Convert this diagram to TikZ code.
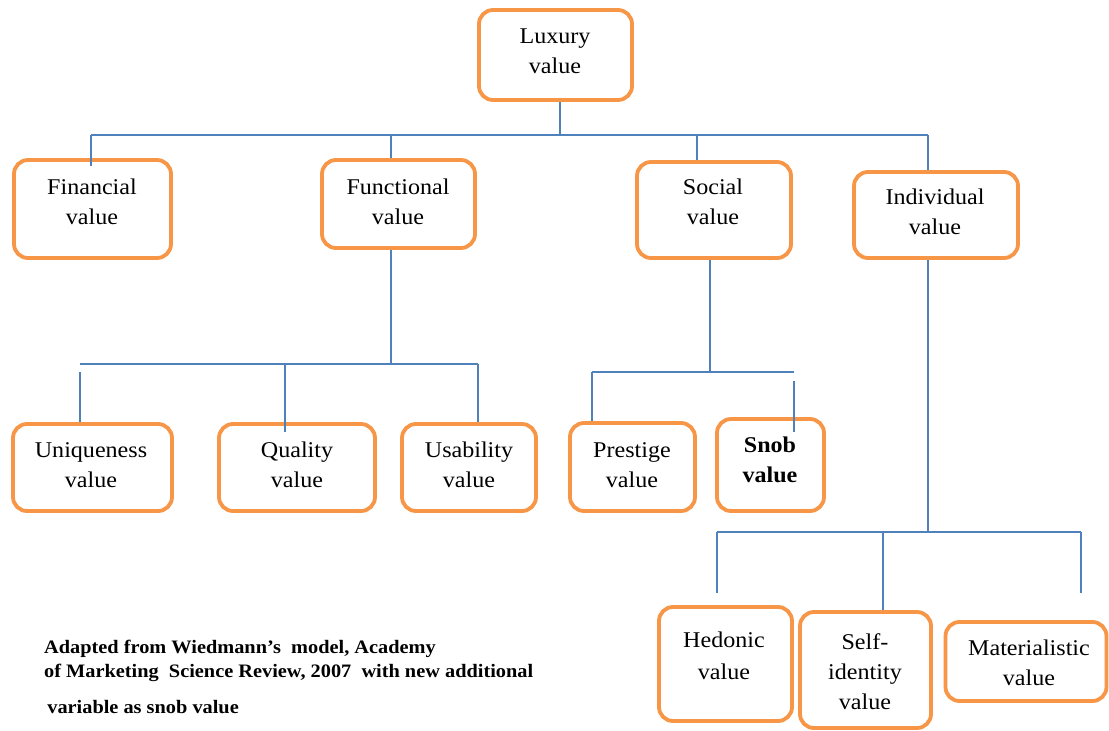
\documentclass[tikz,border=0pt]{standalone}
\usepackage{fontspec}
\setmainfont[FakeStretch=1.07]{Liberation Serif}
\begin{document}
\begin{tikzpicture}[x=1pt,y=-1pt,
  box/.style={draw=boxorange,line width=3.8pt,rounded corners=14pt,inner sep=0pt},
  txt/.style={align=center,inner sep=0pt,font=\fontsize{22.5}{30}\selectfont},
  link/.style={draw=linkblue,line width=1.4pt}]
\definecolor{boxorange}{RGB}{247,150,70}
\definecolor{linkblue}{RGB}{79,129,189}
\useasboundingbox[fill=white] (0,0) rectangle (1109,731);
% level 0
\node[box,minimum width=153pt,minimum height=90pt] (lux) at (555.5,55) {};
\node[txt] (luxt) at (555,51.5) {Luxury\\value};
% level 1
\node[box,minimum width=157pt,minimum height=98pt] (fin) at (92.5,209) {};
\node[txt] (fint) at (92,202) {Financial\\value};
\node[box,minimum width=153pt,minimum height=88pt] (fun) at (398.5,204) {};
\node[txt] (funt) at (398,202) {Functional\\value};
\node[box,minimum width=154pt,minimum height=96pt] (soc) at (714,210) {};
\node[txt] (soct) at (713,202) {Social\\value};
\node[box,minimum width=164pt,minimum height=86pt] (ind) at (936,215) {};
\node[txt] (indt) at (935,212) {Individual\\value};
% level 2
\node[box,minimum width=159pt,minimum height=87pt] (uni) at (92.5,467.5) {};
\node[txt] (unit) at (91,465) {Uniqueness\\value};
\node[box,minimum width=156pt,minimum height=87pt] (qua) at (297,467.5) {};
\node[txt] (quat) at (297,465) {Quality\\value};
\node[box,minimum width=134pt,minimum height=87pt] (usa) at (469,467.5) {};
\node[txt] (usat) at (469,465) {Usability\\value};
\node[box,minimum width=125pt,minimum height=88pt] (pre) at (632.5,467) {};
\node[txt] (pret) at (632,465) {Prestige\\value};
\node[box,minimum width=107pt,minimum height=92pt] (snob) at (770.5,465) {};
\node[txt,font=\fontsize{22.5}{30}\selectfont\bfseries] (snobt) at (770,460) {Snob\\value};
\node[box,minimum width=133pt,minimum height=114pt] (hed) at (725.5,664) {};
\node[txt,font=\fontsize{22.5}{32}\selectfont] (hedt) at (724,656) {Hedonic\\value};
\node[box,minimum width=131pt,minimum height=116pt] (self) at (865.5,670) {};
\node[txt] (selft) at (865,671.5) {Self-\\identity\\value};
\node[box,minimum width=161pt,minimum height=79pt] (mat) at (1026,661.5) {};
\node[txt] (matt) at (1029,663) {Materialistic\\value};
% caption
\node[anchor=base west,align=left,inner sep=0pt,font=\fontsize{19}{24}\selectfont\bfseries] (cap) at (44,713)
  {Adapted from Wiedmann’s\ \ model, Academy\\of Marketing\ \ Science Review, 2007\ \ with new additional\\[12pt]\,variable as snob value};
% top bus
\coordinate (b0) at (560,135);
\coordinate (bfin) at (91,135);
\coordinate (bfun) at (391,135);
\coordinate (bsoc) at (697,135);
\coordinate (bind) at (928,135);
\draw[link] (lux.south -| b0) -- (b0);
\draw[link] (bfin) -- (bind);
\draw[link] (bfin) -- ([yshift=-8pt]bfin |- fin.north);
\draw[link] (bfun) -- (bfun |- fun.north);
\draw[link] (bsoc) -- (bsoc |- soc.north);
\draw[link] (bind) -- (bind |- ind.north);
% functional bus
\coordinate (f0) at (391,364);
\coordinate (funi) at (80,364);
\coordinate (fqua) at (285,364);
\coordinate (fusa) at (478,364);
\draw[link] (fun.south -| f0) -- (f0);
\draw[link] (funi) -- (fusa);
\draw[link] ([yshift=-8pt]funi) -- (funi |- uni.north);
\draw[link] (fqua) -- ([yshift=-10pt]fqua |- qua.north);
\draw[link] (fusa) -- (fusa |- usa.north);
% social bus
\coordinate (s0) at (710,372);
\coordinate (spre) at (592,372);
\coordinate (ssnob) at (794,372);
\draw[link] (soc.south -| s0) -- (s0);
\draw[link] (spre) -- (ssnob);
\draw[link] (spre) -- (spre |- pre.north);
\draw[link] ([yshift=-9pt]ssnob) -- ([yshift=-15pt]ssnob |- snob.north);
% individual bus
\coordinate (i0) at (928,532);
\coordinate (ihed) at (717,532);
\coordinate (iself) at (883,532);
\coordinate (imat) at (1081,532);
\draw[link] (ind.south -| i0) -- (i0);
\draw[link] (ihed) -- (imat);
\draw[link] (ihed) -- ([yshift=12pt]ihed |- hed.north);
\draw[link] (iself) -- (iself |- self.north);
\draw[link] (imat) -- ([yshift=27pt]imat |- mat.north);
\end{tikzpicture}
\end{document}
